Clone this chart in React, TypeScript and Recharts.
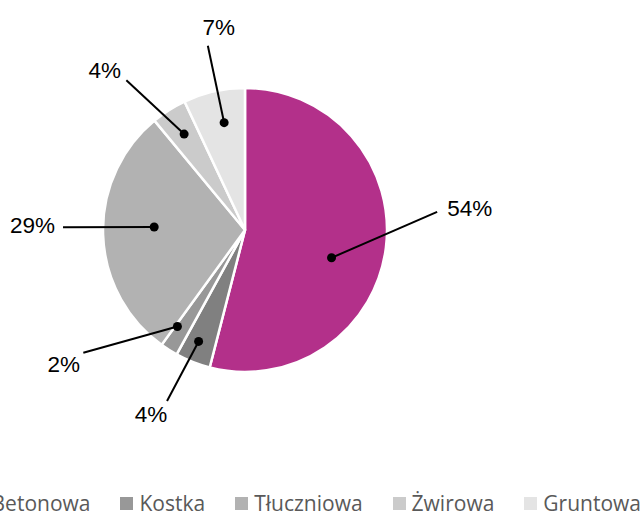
import { PieChart, Pie, Cell, Legend } from "recharts";

const categories = ["Asfaltowa", "Betonowa", "Kostka", "Tłuczniowa", "Żwirowa", "Gruntowa"];
const shares = [54, 4, 2, 29, 4, 7];
const colors = ["#B3308A", "#808080", "#989898", "#B2B2B2", "#CBCBCB", "#E4E4E4"];

const data = categories.map((name, i) => ({ name, value: shares[i] }));

// leader-line layout per slice: dot radius (fraction of R), angular tweak of dot,
// line end distance from centre + its angle tweak, text offset from line end
const labelLayout = [
  { dotR: 0.64, dotTurn: 10.6, lineR: 193, lineTurn: -12.6, tx: 10, ty: -4, anchor: "start" },
  { dotR: 0.85, dotTurn: 1, lineR: 188, lineTurn: 2.9, tx: -16, ty: 12.5, anchor: "middle" },
  { dotR: 0.83, dotTurn: 2.6, lineR: 203, lineTurn: 20.4, tx: -19.5, ty: 11, anchor: "middle" },
  { dotR: 0.64, dotTurn: 3.7, lineR: 182, lineTurn: 2.7, tx: -8, ty: -2, anchor: "end" },
  { dotR: 0.8, dotTurn: 0, lineR: 191, lineTurn: -6, tx: -21.5, ty: -10, anchor: "middle" },
  { dotR: 0.77, dotTurn: 1.6, lineR: 188, lineTurn: 1.2, tx: 11, ty: -19, anchor: "middle" },
];

const polar = (cx: number, cy: number, r: number, clockDeg: number) => {
  const a = (clockDeg * Math.PI) / 180;
  return { x: cx + r * Math.sin(a), y: cy - r * Math.cos(a) };
};

const renderLabel = (props: any) => {
  const { cx, cy, midAngle, outerRadius, index, value } = props;
  const lay = labelLayout[index];
  const theta = 90 - midAngle; // clockwise from 12 o'clock
  const dot = polar(cx, cy, outerRadius * lay.dotR, theta + lay.dotTurn);
  const end = polar(cx, cy, lay.lineR, theta + lay.lineTurn);
  return (
    <g key={`lbl-${index}`}>
      <line x1={dot.x} y1={dot.y} x2={end.x} y2={end.y} stroke="#000" strokeWidth={2} />
      <circle cx={dot.x} cy={dot.y} r={4.5} fill="#000" />
      <text
        x={end.x + lay.tx}
        y={end.y + lay.ty + 8}
        textAnchor={lay.anchor}
        fontFamily="'Liberation Sans', Arial, sans-serif"
        fontSize={22.5}
        fill="#000"
      >
        {`${value}%`}
      </text>
    </g>
  );
};

const LegendRow = () => (
  <div style={{ display: "flex", alignItems: "center", whiteSpace: "nowrap" }}>
    {categories.map((name, i) => (
      <div key={name} style={{ display: "flex", alignItems: "center", marginLeft: i === 0 ? 0 : 30 }}>
        <span style={{ width: 13, height: 13, background: colors[i], marginRight: 6, display: "inline-block" }} />
        <span style={{ fontFamily: "'Open Sans', sans-serif", fontSize: 21, color: "#595959", lineHeight: "24px" }}>
          {name}
        </span>
      </div>
    ))}
  </div>
);

export default function App() {
  return (
    <div style={{ position: "absolute", left: 0, top: 0, width: 642, height: 514, overflow: "hidden", background: "#fff" }}>
      <PieChart width={642} height={514} margin={{ top: 0, right: 0, bottom: 0, left: 0 }}>
        <Pie
          data={data}
          dataKey="value"
          nameKey="name"
          cx={245}
          cy={230}
          outerRadius={142}
          startAngle={90}
          endAngle={-270}
          stroke="#fff"
          strokeWidth={2.5}
          label={renderLabel}
          labelLine={false}
          isAnimationActive={false}
        >
          {data.map((d, i) => (
            <Cell key={d.name} fill={colors[i]} />
          ))}
        </Pie>
        <Legend
          content={() => <LegendRow />}
          wrapperStyle={{ left: "auto", right: 1, top: 491, width: "auto", bottom: "auto" }}
        />
      </PieChart>
    </div>
  );
}
